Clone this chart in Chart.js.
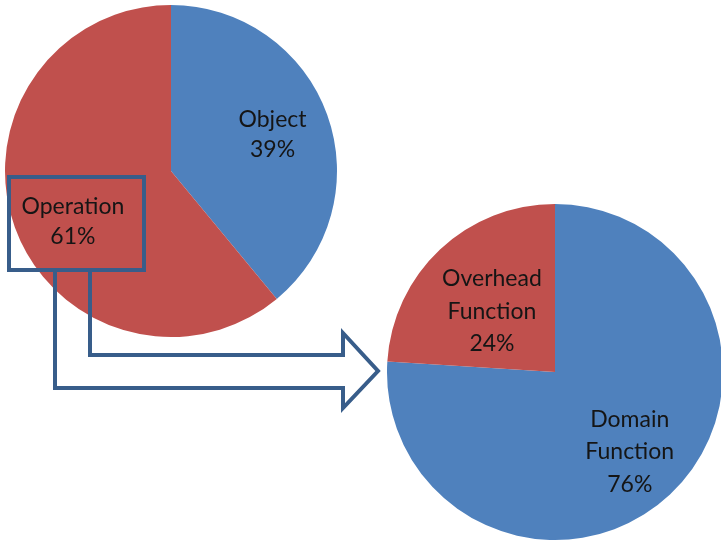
<!DOCTYPE html>
<html>
<head>
<meta charset="utf-8">
<script src="https://cdn.jsdelivr.net/npm/chart.js@4/dist/chart.umd.min.js"></script>
<style>
  html, body { margin: 0; padding: 0; background: #fff; }
  body { width: 721px; height: 540px; position: relative; overflow: hidden; }
  .box { position: absolute; }
  #left { left: 0; top: 0; width: 342px; height: 342px; }
  #right { left: 385px; top: 202px; width: 340px; height: 340px; }
  #overlay { position: absolute; left: 0; top: 0; pointer-events: none; }
</style>
</head>
<body>
<div class="box" id="left"><canvas id="leftChart"></canvas></div>
<div class="box" id="right"><canvas id="rightChart"></canvas></div>
<canvas id="overlay" width="721" height="540"></canvas>
<script>
// data
const outerLabels = ['Object', 'Operation'];
const outerValues = [39, 61];
const innerLabels = ['Domain Function', 'Overhead Function'];
const innerValues = [76, 24];

const BLUE = '#4f81bd';
const RED = '#c0504d';

// writes "Name\nNN%" inside each slice
const sliceLabels = {
  id: 'sliceLabels',
  afterDatasetsDraw(chart, args, opts) {
    const ctx = chart.ctx;
    const meta = chart.getDatasetMeta(0);
    const data = chart.data.datasets[0].data;
    const total = data.reduce((a, b) => a + b, 0);
    ctx.save();
    ctx.font = '23px Lato, "Open Sans", sans-serif';
    ctx.fillStyle = '#151515';
    ctx.textAlign = 'center';
    ctx.textBaseline = 'middle';
    meta.data.forEach((arc, i) => {
      const p = arc.getProps(['x', 'y', 'startAngle', 'endAngle', 'outerRadius'], true);
      const mid = (p.startAngle + p.endAngle) / 2 + opts.turn[i] * Math.PI / 180;
      const r = p.outerRadius * opts.dist[i];
      const cx = p.x + Math.cos(mid) * r;
      const cy = p.y + Math.sin(mid) * r;
      const lines = chart.data.labels[i].split(' ');
      lines.push(Math.round(data[i] / total * 100) + '%');
      const lh = opts.lh;
      const y0 = cy - (lines.length - 1) * lh / 2;
      lines.forEach((t, k) => ctx.fillText(t, cx, y0 + k * lh));
    });
    ctx.restore();
  }
};

function pie(id, labels, values, radius, dist, turn, lh) {
  return new Chart(document.getElementById(id), {
    type: 'pie',
    data: {
      labels: labels,
      datasets: [{
        data: values,
        backgroundColor: [BLUE, RED],
        borderWidth: 0,
        radius: radius
      }]
    },
    options: {
      responsive: true,
      maintainAspectRatio: false,
      animation: false,
      layout: { padding: 0 },
      plugins: {
        legend: { display: false },
        tooltip: { enabled: false },
        sliceLabels: { dist: dist, turn: turn, lh: lh }
      }
    },
    plugins: [sliceLabels]
  });
}

pie('leftChart', outerLabels, outerValues, 166, [0.65, 0.665], [0, -7.5], 30);
pie('rightChart', innerLabels, innerValues, 168, [0.65, 0.52], [0, -3], 32.5);

// callout box and arrow
const o = document.getElementById('overlay').getContext('2d');
o.strokeStyle = '#385d8a';
o.lineWidth = 4;
o.lineJoin = 'miter';
o.strokeRect(9, 177, 135, 93);
o.beginPath();
o.moveTo(90, 270);
o.lineTo(90, 355);
o.lineTo(343, 355);
o.lineTo(343, 333);
o.lineTo(378, 371);
o.lineTo(343, 408);
o.lineTo(343, 388);
o.lineTo(55, 388);
o.lineTo(55, 270);
o.stroke();
</script>
</body>
</html>
